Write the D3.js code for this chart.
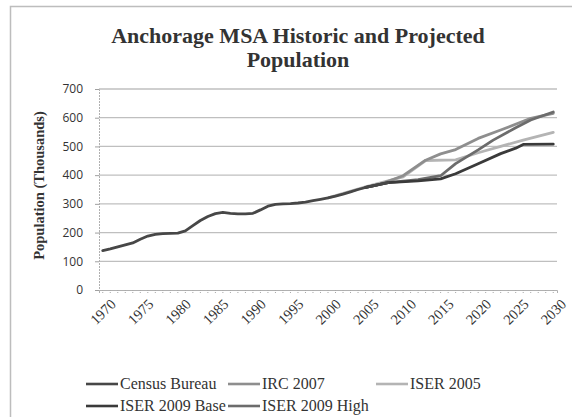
<!DOCTYPE html>
<html>
<head>
<meta charset="utf-8">
<script src="https://cdn.jsdelivr.net/npm/d3@7"></script>
<style>
    body { margin: 0; background: #fff; }
    svg { display: block; }
</style>
</head>
<body>
<svg id="chart" width="572" height="417"></svg>
<script>

// Data (thousands)

const years = d3.range(1970, 2031);
const tickYears = d3.range(1970, 2031, 5);
const yTicks = [0, 100, 200, 300, 400, 500, 600, 700];

const seriesNames = ["Census Bureau", "IRC 2007", "ISER 2005", "ISER 2009 Base", "ISER 2009 High"];
const seriesColors = ["#474747", "#8e8e8e", "#b4b4b4", "#3a3a3a", "#6c6c6c"];

const censusBureau = [
    [1970, 137], [1971, 143], [1972, 150], [1973, 157], [1974, 164], [1975, 177],
    [1976, 188], [1977, 194], [1978, 196], [1979, 197], [1980, 198], [1981, 206],
    [1982, 224], [1983, 242], [1984, 256], [1985, 266], [1986, 270], [1987, 267],
    [1988, 265], [1989, 265], [1990, 267], [1991, 279], [1992, 292], [1993, 298],
    [1994, 300], [1995, 301], [1996, 303], [1997, 306], [1998, 311], [1999, 316],
    [2000, 321], [2001, 327], [2002, 334], [2003, 342], [2004, 350], [2005, 357],
    [2006, 363], [2007, 369], [2008, 374]
];
const irc2007 = [
    [2005, 357], [2007, 369], [2010, 398], [2013, 452], [2015, 474], [2017, 489],
    [2020, 528], [2023, 557], [2027, 598], [2030, 615]
];
const iser2005 = [
    [2000, 321], [2005, 359], [2010, 394], [2013, 451], [2017, 453], [2020, 478],
    [2023, 500], [2026, 522], [2030, 549]
];
const iser2009Base = [
    [2005, 357], [2008, 374], [2012, 380], [2015, 387], [2017, 405], [2020, 440],
    [2023, 475], [2025, 494], [2026, 507], [2030, 508]
];
const iser2009High = [
    [2005, 357], [2008, 374], [2012, 384], [2015, 398], [2017, 440], [2020, 488],
    [2022, 522], [2025, 565], [2027, 592], [2030, 620]
];

const seriesData = [censusBureau, irc2007, iser2005, iser2009Base, iser2009High];

// Layout

const svg = d3.select("#chart");
const plot = { left: 99, right: 557, top: 89, bottom: 290 };

svg.append("rect")
    .attr("x", 10.5).attr("y", 6.5)
    .attr("width", 600).attr("height", 450)
    .attr("fill", "#fff")
    .attr("stroke", "#bdbdbd")
    .attr("stroke-width", 1.5);

const x = d3.scaleBand()
    .domain(years)
    .range([plot.left, plot.right]);

const xPos = yr => x(yr) + x.bandwidth() / 2;

const y = d3.scaleLinear()
    .domain([0, 700])
    .range([plot.bottom, plot.top]);

// Title

const titleLines = ["Anchorage MSA Historic and Projected", "Population"];

svg.append("g")
    .selectAll("text")
    .data(titleLines)
    .join("text")
    .attr("x", 298)
    .attr("y", (d, i) => 43 + i * 24)
    .attr("text-anchor", "middle")
    .attr("font-family", "Liberation Serif")
    .attr("font-weight", "bold")
    .attr("font-size", 22)
    .attr("fill", "#333")
    .text(d => d);

// Gridlines

svg.append("g")
    .selectAll("line")
    .data(yTicks.filter(d => d > 0))
    .join("line")
    .attr("x1", plot.left).attr("x2", plot.right)
    .attr("y1", d => y(d)).attr("y2", d => y(d))
    .attr("stroke", "#bfbfbf")
    .attr("stroke-width", 1.3);

// Y axis

const yAxis = svg.append("g")
    .attr("transform", `translate(${plot.left},0)`)
    .call(d3.axisLeft(y).tickValues(yTicks).tickSize(4).tickPadding(12));

yAxis.select(".domain").attr("stroke", "#b0b0b0").attr("stroke-dasharray", "2,1");
yAxis.selectAll(".tick line").attr("stroke", "#a0a0a0");
yAxis.selectAll("text")
    .attr("font-family", "Open Sans")
    .attr("font-size", 12)
    .attr("fill", "#333");

svg.append("text")
    .attr("transform", `translate(44,${(plot.top + plot.bottom) / 2 - 4}) rotate(-90)`)
    .attr("text-anchor", "middle")
    .attr("font-family", "Liberation Serif")
    .attr("font-weight", "bold")
    .attr("font-size", 14.5)
    .attr("fill", "#333")
    .text("Population (Thousands)");

// X axis

const xAxis = svg.append("g")
    .attr("transform", `translate(0,${plot.bottom})`)
    .call(d3.axisBottom(x).tickValues(years).tickSize(3).tickFormat(""));

xAxis.select(".domain").attr("stroke", "#b0b0b0");
xAxis.selectAll(".tick line").attr("stroke", "#a8a8a8").attr("stroke-dasharray", "1,1");

svg.append("g")
    .selectAll("text")
    .data(tickYears)
    .join("text")
    .attr("transform", d => `translate(${xPos(d) + 14},${plot.bottom + 15}) rotate(-45)`)
    .attr("text-anchor", "end")
    .attr("font-family", "Liberation Serif")
    .attr("font-size", 14.5)
    .attr("fill", "#333")
    .text(d => d);

// Lines

const line = d3.line()
    .x(d => xPos(d[0]))
    .y(d => y(d[1]));

const drawOrder = [2, 1, 4, 3, 0];

svg.append("g")
    .selectAll("path")
    .data(drawOrder)
    .join("path")
    .attr("d", i => line(seriesData[i]))
    .attr("fill", "none")
    .attr("stroke", i => seriesColors[i])
    .attr("stroke-width", 2.8)
    .attr("stroke-linejoin", "round")
    .attr("stroke-linecap", "round");

// Legend

const legendPos = [[86, 384], [228, 384], [376, 384], [86, 406], [228, 406]];

const legend = svg.append("g")
    .selectAll("g")
    .data(seriesNames)
    .join("g")
    .attr("transform", (d, i) => `translate(${legendPos[i][0]},${legendPos[i][1]})`);

legend.append("line")
    .attr("x1", 0).attr("x2", 32)
    .attr("stroke", (d, i) => seriesColors[i])
    .attr("stroke-width", 2.6);

legend.append("text")
    .attr("x", 34).attr("y", 5)
    .attr("font-family", "Liberation Serif")
    .attr("font-size", 16)
    .attr("fill", "#333")
    .text(d => d);

</script>
</body>
</html>
